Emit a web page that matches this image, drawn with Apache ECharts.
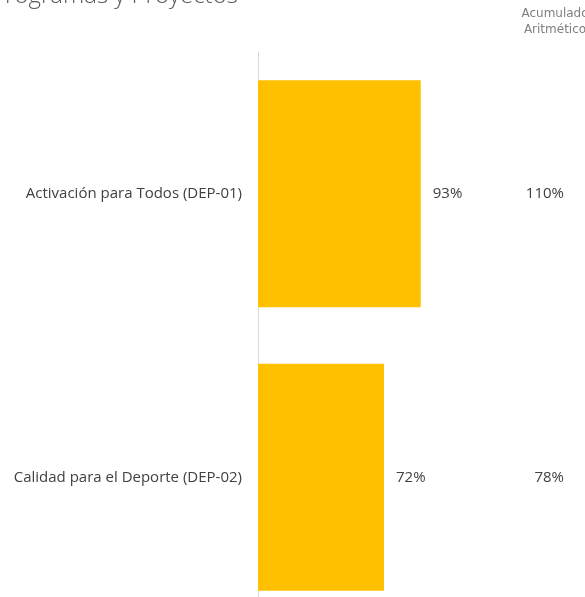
<!DOCTYPE html>
<html>
<head>
<meta charset="utf-8">
<script src="https://cdn.jsdelivr.net/npm/echarts@6/dist/echarts.min.js"></script>
<style>
  html, body { margin: 0; padding: 0; background: #fff; }
  #chart { width: 585px; height: 597px; }
</style>
</head>
<body>
<div id="chart"></div>
<script>
// Programas y proyectos: avance del periodo y acumulado aritmético
const categories = ['Activación para Todos (DEP-01)', 'Calidad para el Deporte (DEP-02)'];
const avance = [93, 72];
const acumulado = [110, 78];

const chart = echarts.init(document.getElementById('chart'));

chart.setOption({
  backgroundColor: '#ffffff',
  animation: false,
  title: [
    {
      text: 'Programas y Proyectos',
      left: -14,
      top: -21,
      textStyle: { fontFamily: 'Open Sans', fontWeight: 300, fontSize: 24, color: '#595959' }
    },
    {
      text: 'Acumulado\nAritmético',
      left: 550,
      top: 1,
      textAlign: 'center',
      textStyle: { fontFamily: 'DejaVu Sans', fontWeight: 'normal', fontSize: 12, lineHeight: 16, color: '#7f7f7f' }
    }
  ],
  grid: { left: 258, top: 52, width: 175, height: 567, containLabel: false, outerBoundsMode: 'none' },
  xAxis: {
    type: 'value',
    min: 0,
    max: 100,
    show: false
  },
  yAxis: [
    {
      type: 'category',
      data: categories,
      inverse: true,
      axisLine: { show: true, lineStyle: { color: '#d9d9d9', width: 1 } },
      axisTick: { show: false },
      axisLabel: { margin: 16, fontFamily: 'Open Sans', fontSize: 15, color: '#404040' }
    },
    {
      type: 'category',
      data: categories,
      inverse: true,
      position: 'right',
      axisLine: { show: false },
      axisTick: { show: false },
      axisLabel: {
        margin: 131,
        align: 'right',
        fontFamily: 'Open Sans',
        fontSize: 15,
        color: '#404040',
        formatter: (v, i) => acumulado[i] + '%'
      }
    }
  ],
  series: [
    {
      type: 'bar',
      data: avance,
      barCategoryGap: '20%',
      itemStyle: { color: '#ffc000' },
      label: {
        show: true,
        position: 'right',
        distance: 12,
        fontFamily: 'Open Sans',
        fontSize: 15,
        color: '#404040',
        formatter: p => p.value + '%'
      }
    }
  ]
});
</script>
</body>
</html>
